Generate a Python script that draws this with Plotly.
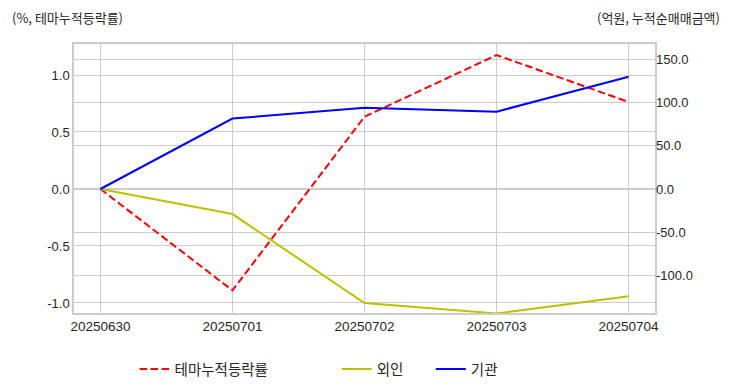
import plotly.graph_objects as go

dates = ["20250630", "20250701", "20250702", "20250703", "20250704"]
theme_rate = [0.0, -0.89, 0.634, 1.175, 0.763]      # % (left axis)
foreign = [0.0, -29.0, -132.0, -144.0, -124.0]      # 억원 (right axis)
institution = [0.0, 81.5, 94.0, 89.5, 130.0]        # 억원 (right axis)

left_ticks = [-1.0, -0.5, 0.0, 0.5, 1.0]
left_ticktext = ["-1.0", "-0.5", "0.0", "0.5", "1.0"]
right_ticks = [-100.0, -50.0, 0.0, 50.0, 100.0, 150.0]
right_ticktext = ["-100.0", "-50.0", "0.0", "50.0", "100.0", "150.0"]

TXT = "#262626"
GRID = "#cccccc"
FONT = "Liberation Sans, Noto Sans CJK KR, sans-serif"
KFONT = "Noto Sans CJK KR, Liberation Sans, sans-serif"

fig = go.Figure()
fig.add_trace(go.Scatter(x=dates, y=theme_rate, mode="lines", name="테마누적등락률",
                         line=dict(color="#ff0000", width=2, dash="7.5px,3.5px"),
                         yaxis="y", legend="legend"))
fig.add_trace(go.Scatter(x=dates, y=foreign, mode="lines", name="외인",
                         line=dict(color="#bfbf00", width=2),
                         yaxis="y2", legend="legend2"))
fig.add_trace(go.Scatter(x=dates, y=institution, mode="lines", name="기관",
                         line=dict(color="#0000ff", width=2),
                         yaxis="y2", legend="legend3"))

leg_common = dict(orientation="h", yanchor="middle", y=-0.208, xanchor="left",
                  bgcolor="rgba(0,0,0,0)", font=dict(family=KFONT, size=14.5, color=TXT))

fig.update_layout(
    width=732, height=392,
    margin=dict(l=74, r=77, t=44, b=79, autoexpand=False),
    paper_bgcolor="white", plot_bgcolor="white",
    showlegend=True,
    legend=dict(x=0.1042, **leg_common),
    legend2=dict(x=0.4521, **leg_common),
    legend3=dict(x=0.6141, **leg_common),
    xaxis=dict(type="category", range=[-0.2, 4.2], showgrid=True, gridcolor=GRID, gridwidth=1,
               showline=True, linecolor=GRID, linewidth=1.5, mirror=True,
               ticks="", tickfont=dict(family=FONT, size=13.5, color=TXT), zeroline=False),
    yaxis=dict(range=[-1.088, 1.272], tickvals=left_ticks, ticktext=left_ticktext,
               showgrid=True, gridcolor=GRID, gridwidth=1, zeroline=False,
               showline=True, linecolor=GRID, linewidth=1.5, mirror=True,
               ticks="", tickfont=dict(family=FONT, size=13, color=TXT)),
    yaxis2=dict(range=[-143.5, 167.8], tickvals=right_ticks, ticktext=right_ticktext,
                overlaying="y", side="right", showgrid=True, gridcolor=GRID, gridwidth=1,
                zeroline=False, showline=False, ticks="",
                tickfont=dict(family=FONT, size=13, color=TXT)),
    annotations=[
        dict(text="(%, 테마누적등락률)", xref="paper", yref="paper", x=-0.111, y=1.1,
             xanchor="left", yanchor="middle", showarrow=False,
             font=dict(family=KFONT, size=13, color=TXT)),
        dict(text="(억원, 누적순매매금액)", xref="paper", yref="paper", x=1.1153, y=1.1,
             xanchor="right", yanchor="middle", showarrow=False,
             font=dict(family=KFONT, size=13, color=TXT)),
    ],
)

fig.write_html("out.html", config={"displayModeBar": False},
               post_script="document.body.style.margin='0';document.body.style.overflow='hidden';")
